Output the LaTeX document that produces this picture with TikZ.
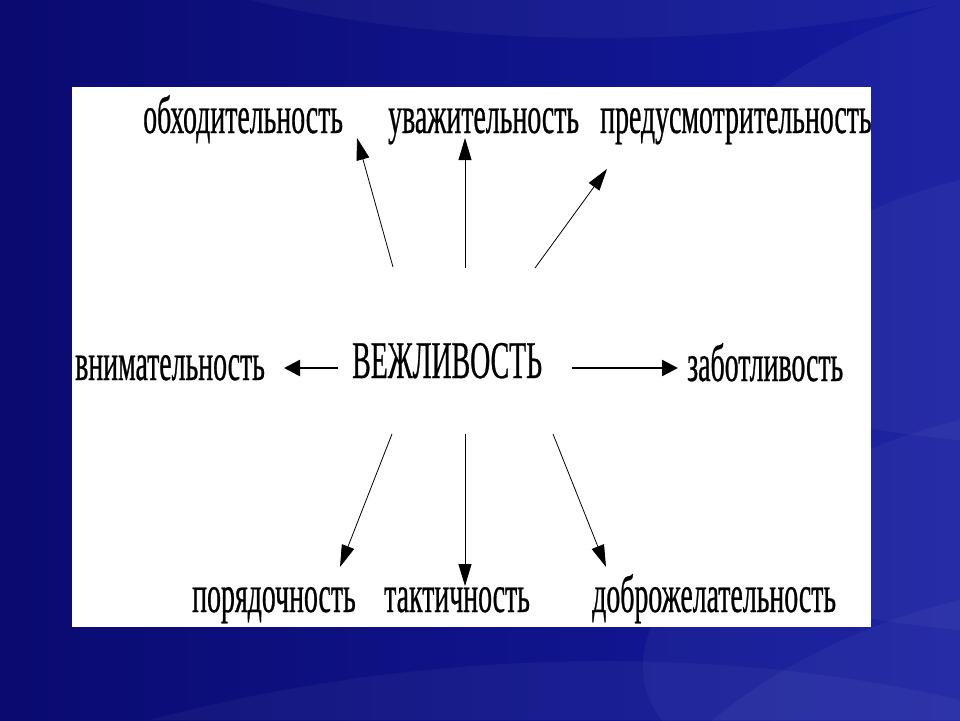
\documentclass[tikz,border=0pt]{standalone}
\usepackage{fontspec}
\usetikzlibrary{arrows.meta}
\newfontfamily\narrowserif[FakeStretch=0.525,FakeBold=0.5]{Liberation Serif}
\definecolor{deepblue}{RGB}{10,10,112}
\definecolor{brightblue}{RGB}{20,28,160}

\begin{document}
\begin{tikzpicture}[x=1pt,y=-1pt,
    word/.style={anchor=base west,inner sep=0pt,font=\narrowserif\fontsize{53}{53}\selectfont},
    ray/.style={line width=0.8pt,-{Triangle[length=22pt,width=13pt]}},
    bar/.style={line width=2.4pt,-{Triangle[length=16pt,width=16pt]}}]
        \useasboundingbox (0,0) rectangle (960,720);
        % background
        \shade[left color=deepblue,right color=brightblue] (0,0) rectangle (960,720);
        \foreach \a/\b in {0/140,180/330,420/520,600/680} {
            \fill[white,opacity=0.04] (960,\a) .. controls (700,\a+60) and (400,\b+250) .. (960,\b+300) -- cycle;
        }
        \fill[white,opacity=0.04] (250,0) .. controls (500,60) and (800,40) .. (960,0) -- cycle;
        \fill[white,opacity=0.04] (150,720) .. controls (450,640) and (750,650) .. (960,700) -- (960,720) -- cycle;
        \fill[white] (72,87) rectangle (871,627);

        % words
        \node[word] (obh) at (143,133) {обходительность};
        \node[word] (uvazh) at (388,133) {уважительность};
        \node[word] (pred) at (600,133) {предусмотрительность};
        \node[word] (vnim) at (75,380) {внимательность};
        \node[word] (vezh) at (352,378) {ВЕЖЛИВОСТЬ};
        \node[word] (zabot) at (687,381) {заботливость};
        \node[word] (poryad) at (192,612) {порядочность};
        \node[word] (takt) at (384,612) {тактичность};
        \node[word] (dobro) at (592,612) {доброжелательность};

        % ends of the rays
        \coordinate (s1) at (393,267);
        \coordinate (s2) at (465,268);
        \coordinate (s3) at (535,268);
        \coordinate (t1) at (357,138);
        \coordinate (t2) at (465,138);
        \coordinate (t3) at (607,169);
        \coordinate (s4) at (392,434);
        \coordinate (s5) at (465,434);
        \coordinate (s6) at (553,434);
        \coordinate (t4) at (340,567);
        \coordinate (t5) at (465,586);
        \coordinate (t6) at (606,567);
        \coordinate (sl) at (338,368);
        \coordinate (tl) at (284,368);
        \coordinate (sr) at (572,368);
        \coordinate (tr) at (678,368);

        \draw[ray] (s1) -- (t1);
        \draw[ray] (s2) -- (t2);
        \draw[ray] (s3) -- (t3);
        \draw[ray] (s4) -- (t4);
        \draw[ray] (s5) -- (t5);
        \draw[ray] (s6) -- (t6);
        \draw[bar] (sl) -- (tl);
        \draw[bar] (sr) -- (tr);
    \end{tikzpicture}
\end{document}
